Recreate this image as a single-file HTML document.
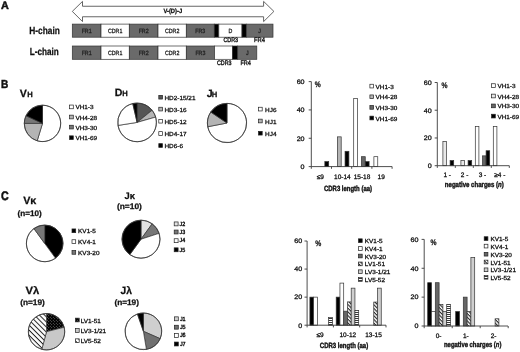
<!DOCTYPE html>
<html><head><meta charset="utf-8"><style>html,body{margin:0;padding:0;background:#fff;width:520px;height:352px;overflow:hidden;}svg{display:block;filter:grayscale(1) blur(0.3px);}</style></head>
<body>
<svg width="520" height="352" viewBox="0 0 520 352">
<style>text{font-family:"Liberation Sans", sans-serif;text-rendering:geometricPrecision;}</style>
<defs>
<pattern id="dots" width="3" height="3" patternUnits="userSpaceOnUse"><rect width="3" height="3" fill="#000"/><rect x="0.4" y="0.4" width="0.7" height="0.7" fill="#bbb"/><rect x="1.9" y="1.9" width="0.7" height="0.7" fill="#bbb"/></pattern>
<pattern id="diag" width="3.6" height="3.6" patternUnits="userSpaceOnUse" patternTransform="rotate(45)"><rect width="3.6" height="3.6" fill="#fff"/><rect width="3.6" height="1" fill="#222"/></pattern>
<pattern id="diag2" width="2.6" height="2.6" patternUnits="userSpaceOnUse" patternTransform="rotate(45)"><rect width="2.6" height="2.6" fill="#fff"/><rect width="2.6" height="1.1" fill="#222"/></pattern>
<pattern id="hstr" width="2" height="2" patternUnits="userSpaceOnUse"><rect width="2" height="2" fill="#fff"/><rect width="2" height="0.9" fill="#222"/></pattern>
</defs>
<rect width="520" height="352" fill="#fff"/>
<text x="1.1" y="9.0" font-size="11" font-weight="bold" textLength="7.8" lengthAdjust="spacingAndGlyphs" fill="#111" stroke="#111" stroke-width="0.5">A</text>
<polygon points="72.3,11.4 82.5,1.4 82.5,6.25 263.6,6.25 263.6,1.4 273.9,11.4 263.6,21.6 263.6,16.75 82.5,16.75 82.5,21.6" fill="#fff" stroke="#555" stroke-width="0.9" stroke-linejoin="miter"/>
<text x="163.4" y="13.4" font-size="6.3" font-weight="bold" textLength="18.8" lengthAdjust="spacingAndGlyphs" fill="#111" stroke="#111" stroke-width="0.26">V-(D)-J</text>
<text x="29.3" y="33.7" font-size="10.2" font-weight="bold" textLength="30.5" lengthAdjust="spacingAndGlyphs" fill="#111" stroke="#111" stroke-width="0.26">H-chain</text>
<text x="29.8" y="54.5" font-size="10.2" font-weight="bold" textLength="29.0" lengthAdjust="spacingAndGlyphs" fill="#111" stroke="#111" stroke-width="0.26">L-chain</text>
<rect x="72.30" y="24.10" width="28.70" height="13.10" fill="#6a6a6a" stroke="#333" stroke-width="0.7"/>
<text x="86.65" y="32.85" font-size="6.1" text-anchor="middle" textLength="10.03" lengthAdjust="spacingAndGlyphs" fill="#222" stroke="#222" stroke-width="0.28">FR1</text>
<rect x="101.00" y="24.10" width="28.30" height="13.10" fill="#fff" stroke="#333" stroke-width="0.7"/>
<text x="115.15" y="32.85" font-size="6.1" text-anchor="middle" textLength="14.45" lengthAdjust="spacingAndGlyphs" fill="#222" stroke="#222" stroke-width="0.28">CDR1</text>
<rect x="129.30" y="24.10" width="28.70" height="13.10" fill="#6a6a6a" stroke="#333" stroke-width="0.7"/>
<text x="143.65" y="32.85" font-size="6.1" text-anchor="middle" textLength="10.03" lengthAdjust="spacingAndGlyphs" fill="#222" stroke="#222" stroke-width="0.28">FR2</text>
<rect x="158.00" y="24.10" width="28.30" height="13.10" fill="#fff" stroke="#333" stroke-width="0.7"/>
<text x="172.15" y="32.85" font-size="6.1" text-anchor="middle" textLength="14.45" lengthAdjust="spacingAndGlyphs" fill="#222" stroke="#222" stroke-width="0.28">CDR2</text>
<rect x="186.30" y="24.10" width="28.00" height="13.10" fill="#6a6a6a" stroke="#333" stroke-width="0.7"/>
<text x="200.3" y="32.85" font-size="6.1" text-anchor="middle" textLength="10.03" lengthAdjust="spacingAndGlyphs" fill="#222" stroke="#222" stroke-width="0.28">FR3</text>
<rect x="214.30" y="24.10" width="4.50" height="13.10" fill="#000" stroke="#333" stroke-width="0.7"/>
<rect x="218.80" y="24.10" width="23.20" height="13.10" fill="#fff" stroke="#333" stroke-width="0.7"/>
<text x="230.4" y="32.85" font-size="6.1" text-anchor="middle" textLength="3.83" lengthAdjust="spacingAndGlyphs" fill="#222" stroke="#222" stroke-width="0.28">D</text>
<rect x="242.00" y="24.10" width="4.30" height="13.10" fill="#000" stroke="#333" stroke-width="0.7"/>
<rect x="246.30" y="24.10" width="26.70" height="13.10" fill="#6a6a6a" stroke="#333" stroke-width="0.7"/>
<text x="259.65" y="32.85" font-size="6.1" text-anchor="middle" textLength="2.65" lengthAdjust="spacingAndGlyphs" fill="#222" stroke="#222" stroke-width="0.28">J</text>
<rect x="72.30" y="46.00" width="28.70" height="13.30" fill="#6a6a6a" stroke="#333" stroke-width="0.7"/>
<text x="86.65" y="54.85" font-size="6.1" text-anchor="middle" textLength="10.03" lengthAdjust="spacingAndGlyphs" fill="#222" stroke="#222" stroke-width="0.28">FR1</text>
<rect x="101.00" y="46.00" width="28.30" height="13.30" fill="#fff" stroke="#333" stroke-width="0.7"/>
<text x="115.15" y="54.85" font-size="6.1" text-anchor="middle" textLength="14.45" lengthAdjust="spacingAndGlyphs" fill="#222" stroke="#222" stroke-width="0.28">CDR1</text>
<rect x="129.30" y="46.00" width="28.70" height="13.30" fill="#6a6a6a" stroke="#333" stroke-width="0.7"/>
<text x="143.65" y="54.85" font-size="6.1" text-anchor="middle" textLength="10.03" lengthAdjust="spacingAndGlyphs" fill="#222" stroke="#222" stroke-width="0.28">FR2</text>
<rect x="158.00" y="46.00" width="28.30" height="13.30" fill="#fff" stroke="#333" stroke-width="0.7"/>
<text x="172.15" y="54.85" font-size="6.1" text-anchor="middle" textLength="14.45" lengthAdjust="spacingAndGlyphs" fill="#222" stroke="#222" stroke-width="0.28">CDR2</text>
<rect x="186.30" y="46.00" width="28.20" height="13.30" fill="#6a6a6a" stroke="#333" stroke-width="0.7"/>
<text x="200.4" y="54.85" font-size="6.1" text-anchor="middle" textLength="10.03" lengthAdjust="spacingAndGlyphs" fill="#222" stroke="#222" stroke-width="0.28">FR3</text>
<rect x="214.50" y="46.00" width="18.10" height="13.30" fill="#fff" stroke="#333" stroke-width="0.7"/>
<rect x="232.60" y="46.00" width="5.10" height="13.30" fill="#000" stroke="#333" stroke-width="0.7"/>
<rect x="237.70" y="46.00" width="19.10" height="13.30" fill="#6a6a6a" stroke="#333" stroke-width="0.7"/>
<text x="247.25" y="54.85" font-size="6.1" text-anchor="middle" textLength="2.65" lengthAdjust="spacingAndGlyphs" fill="#222" stroke="#222" stroke-width="0.28">J</text>
<text x="230.7" y="42.0" font-size="6.5" text-anchor="middle" textLength="14.6" lengthAdjust="spacingAndGlyphs" fill="#1a1a1a" stroke="#1a1a1a" stroke-width="0.38">CDR3</text>
<text x="259.5" y="42.0" font-size="6.5" text-anchor="middle" textLength="11" lengthAdjust="spacingAndGlyphs" fill="#1a1a1a" stroke="#1a1a1a" stroke-width="0.38">FR4</text>
<text x="224.3" y="64.8" font-size="6.5" text-anchor="middle" textLength="14.6" lengthAdjust="spacingAndGlyphs" fill="#1a1a1a" stroke="#1a1a1a" stroke-width="0.38">CDR3</text>
<text x="245.7" y="64.8" font-size="6.5" text-anchor="middle" textLength="10.5" lengthAdjust="spacingAndGlyphs" fill="#1a1a1a" stroke="#1a1a1a" stroke-width="0.38">FR4</text>
<text x="0.9" y="87.9" font-size="11.8" font-weight="bold" textLength="7.3" lengthAdjust="spacingAndGlyphs" fill="#111" stroke="#111" stroke-width="0.5">B</text>
<text x="19.8" y="96.8" font-size="10.6" font-weight="bold" fill="#111" stroke="#111" stroke-width="0.26">V</text>
<text x="27.2" y="96.8" font-size="7.6" font-weight="bold" fill="#111" stroke="#111" stroke-width="0.26">H</text>
<path d="M42.50,123.40 L42.50,105.20 A18.2,18.2 0 1 1 37.18,140.80 Z" fill="#fff" stroke="#333" stroke-width="0.7" stroke-linejoin="round"/>
<path d="M42.50,123.40 L37.18,140.80 A18.2,18.2 0 0 1 24.30,123.40 Z" fill="#b4b4b4" stroke="#333" stroke-width="0.7" stroke-linejoin="round"/>
<path d="M42.50,123.40 L24.30,123.40 A18.2,18.2 0 0 1 26.01,115.71 Z" fill="#777" stroke="#333" stroke-width="0.7" stroke-linejoin="round"/>
<path d="M42.50,123.40 L26.01,115.71 A18.2,18.2 0 0 1 42.50,105.20 Z" fill="#000" stroke="#333" stroke-width="0.7" stroke-linejoin="round"/>
<circle cx="42.5" cy="123.4" r="18.2" fill="none" stroke="#333" stroke-width="0.7"/>
<rect x="69.60" y="105.05" width="3.70" height="3.70" fill="#fff" stroke="#222" stroke-width="0.7"/>
<text x="75.4" y="109.41" font-size="5.9" textLength="18.14" lengthAdjust="spacingAndGlyphs" fill="#111" stroke="#111" stroke-width="0.28">VH1-3</text>
<rect x="69.60" y="115.15" width="3.70" height="3.70" fill="#b4b4b4" stroke="#222" stroke-width="0.7"/>
<text x="75.4" y="119.51" font-size="5.9" textLength="21.7" lengthAdjust="spacingAndGlyphs" fill="#111" stroke="#111" stroke-width="0.28">VH4-28</text>
<rect x="69.60" y="125.25" width="3.70" height="3.70" fill="#777" stroke="#222" stroke-width="0.7"/>
<text x="75.4" y="129.61" font-size="5.9" textLength="21.7" lengthAdjust="spacingAndGlyphs" fill="#111" stroke="#111" stroke-width="0.28">VH3-30</text>
<rect x="69.60" y="135.85" width="3.70" height="3.70" fill="#000" stroke="#222" stroke-width="0.7"/>
<text x="75.4" y="140.21" font-size="5.9" textLength="21.7" lengthAdjust="spacingAndGlyphs" fill="#111" stroke="#111" stroke-width="0.28">VH1-69</text>
<text x="114.8" y="95.8" font-size="10.6" font-weight="bold" fill="#111" stroke="#111" stroke-width="0.26">D</text>
<text x="122.2" y="95.8" font-size="7.6" font-weight="bold" fill="#111" stroke="#111" stroke-width="0.26">H</text>
<path d="M137.10,122.40 L137.10,103.10 A19.3,19.3 0 0 1 152.10,110.25 Z" fill="#555" stroke="#333" stroke-width="0.7" stroke-linejoin="round"/>
<path d="M137.10,122.40 L152.10,110.25 A19.3,19.3 0 0 1 155.65,117.08 Z" fill="#b4b4b4" stroke="#333" stroke-width="0.7" stroke-linejoin="round"/>
<path d="M137.10,122.40 L155.65,117.08 A19.3,19.3 0 1 1 118.04,125.42 Z" fill="#fff" stroke="#333" stroke-width="0.7" stroke-linejoin="round"/>
<path d="M137.10,122.40 L118.04,125.42 A19.3,19.3 0 0 1 132.76,103.59 Z" fill="#fff" stroke="#333" stroke-width="0.7" stroke-linejoin="round"/>
<path d="M137.10,122.40 L132.76,103.59 A19.3,19.3 0 0 1 137.10,103.10 Z" fill="#000" stroke="#333" stroke-width="0.7" stroke-linejoin="round"/>
<circle cx="137.1" cy="122.4" r="19.3" fill="none" stroke="#333" stroke-width="0.7"/>
<rect x="158.80" y="95.35" width="3.70" height="3.70" fill="#555" stroke="#222" stroke-width="0.7"/>
<text x="164.5" y="99.71" font-size="5.9" textLength="30.95" lengthAdjust="spacingAndGlyphs" fill="#111" stroke="#111" stroke-width="0.28">HD2-15/21</text>
<rect x="158.80" y="107.25" width="3.70" height="3.70" fill="#b4b4b4" stroke="#222" stroke-width="0.7"/>
<text x="164.5" y="111.61" font-size="5.9" textLength="22.05" lengthAdjust="spacingAndGlyphs" fill="#111" stroke="#111" stroke-width="0.28">HD3-16</text>
<rect x="158.80" y="119.35" width="3.70" height="3.70" fill="#fff" stroke="#222" stroke-width="0.7"/>
<text x="164.5" y="123.71" font-size="5.9" textLength="22.05" lengthAdjust="spacingAndGlyphs" fill="#111" stroke="#111" stroke-width="0.28">HD5-12</text>
<rect x="158.80" y="131.65" width="3.70" height="3.70" fill="#fff" stroke="#222" stroke-width="0.7"/>
<text x="164.5" y="136.01" font-size="5.9" textLength="22.05" lengthAdjust="spacingAndGlyphs" fill="#111" stroke="#111" stroke-width="0.28">HD4-17</text>
<rect x="158.80" y="143.65" width="3.70" height="3.70" fill="#000" stroke="#222" stroke-width="0.7"/>
<text x="164.5" y="148.01" font-size="5.9" textLength="18.49" lengthAdjust="spacingAndGlyphs" fill="#111" stroke="#111" stroke-width="0.28">HD6-6</text>
<text x="206.8" y="96.6" font-size="10.6" font-weight="bold" fill="#111" stroke="#111" stroke-width="0.26">J</text>
<text x="211.8" y="96.6" font-size="7.6" font-weight="bold" fill="#111" stroke="#111" stroke-width="0.26">H</text>
<path d="M227.00,123.00 L227.00,103.40 A19.6,19.6 0 1 1 207.76,126.74 Z" fill="#fff" stroke="#333" stroke-width="0.7" stroke-linejoin="round"/>
<path d="M227.00,123.00 L207.76,126.74 A19.6,19.6 0 0 1 210.75,112.04 Z" fill="#b4b4b4" stroke="#333" stroke-width="0.7" stroke-linejoin="round"/>
<path d="M227.00,123.00 L210.75,112.04 A19.6,19.6 0 0 1 227.00,103.40 Z" fill="#000" stroke="#333" stroke-width="0.7" stroke-linejoin="round"/>
<circle cx="227" cy="123" r="19.6" fill="none" stroke="#333" stroke-width="0.7"/>
<rect x="258.50" y="107.25" width="3.70" height="3.70" fill="#fff" stroke="#222" stroke-width="0.7"/>
<text x="265.1" y="111.61" font-size="5.9" textLength="11.38" lengthAdjust="spacingAndGlyphs" fill="#111" stroke="#111" stroke-width="0.28">HJ6</text>
<rect x="258.50" y="119.15" width="3.70" height="3.70" fill="#b4b4b4" stroke="#222" stroke-width="0.7"/>
<text x="265.1" y="123.51" font-size="5.9" textLength="11.38" lengthAdjust="spacingAndGlyphs" fill="#111" stroke="#111" stroke-width="0.28">HJ1</text>
<rect x="258.50" y="131.35" width="3.70" height="3.70" fill="#000" stroke="#222" stroke-width="0.7"/>
<text x="265.1" y="135.71" font-size="5.9" textLength="11.38" lengthAdjust="spacingAndGlyphs" fill="#111" stroke="#111" stroke-width="0.28">HJ4</text>
<rect x="324.85" y="161.64" width="3.85" height="4.96" fill="#000" stroke="#333" stroke-width="0.7"/>
<rect x="337.35" y="136.85" width="3.85" height="29.75" fill="#b4b4b4" stroke="#333" stroke-width="0.7"/>
<rect x="345.05" y="151.30" width="3.85" height="15.30" fill="#000" stroke="#333" stroke-width="0.7"/>
<rect x="353.70" y="98.60" width="3.85" height="68.00" fill="#fff" stroke="#333" stroke-width="0.7"/>
<rect x="361.40" y="156.68" width="3.85" height="9.92" fill="#666" stroke="#333" stroke-width="0.7"/>
<rect x="365.25" y="161.64" width="3.85" height="4.96" fill="#000" stroke="#333" stroke-width="0.7"/>
<rect x="373.90" y="156.68" width="3.85" height="9.92" fill="#fff" stroke="#333" stroke-width="0.7"/>
<line x1="311.3" y1="81.6" x2="311.3" y2="166.6" stroke="#3a3a3a" stroke-width="0.9"/>
<line x1="311.3" y1="166.6" x2="392.1" y2="166.6" stroke="#3a3a3a" stroke-width="0.9"/>
<line x1="308.7" y1="81.60" x2="311.3" y2="81.60" stroke="#3a3a3a" stroke-width="0.9"/>
<text x="304.6" y="83.89999999999999" font-size="6.5" text-anchor="end" textLength="7.95" lengthAdjust="spacingAndGlyphs" fill="#111" stroke="#111" stroke-width="0.28">60</text>
<line x1="308.7" y1="109.93" x2="311.3" y2="109.93" stroke="#3a3a3a" stroke-width="0.9"/>
<text x="304.6" y="112.23333333333333" font-size="6.5" text-anchor="end" textLength="7.95" lengthAdjust="spacingAndGlyphs" fill="#111" stroke="#111" stroke-width="0.28">40</text>
<line x1="308.7" y1="138.27" x2="311.3" y2="138.27" stroke="#3a3a3a" stroke-width="0.9"/>
<text x="304.6" y="140.56666666666666" font-size="6.5" text-anchor="end" textLength="7.95" lengthAdjust="spacingAndGlyphs" fill="#111" stroke="#111" stroke-width="0.28">20</text>
<line x1="308.7" y1="166.60" x2="311.3" y2="166.60" stroke="#3a3a3a" stroke-width="0.9"/>
<text x="304.6" y="168.9" font-size="6.5" text-anchor="end" textLength="3.98" lengthAdjust="spacingAndGlyphs" fill="#111" stroke="#111" stroke-width="0.28">0</text>
<line x1="311.30" y1="166.6" x2="311.30" y2="168.79999999999998" stroke="#3a3a3a" stroke-width="0.9"/>
<line x1="331.50" y1="166.6" x2="331.50" y2="168.79999999999998" stroke="#3a3a3a" stroke-width="0.9"/>
<line x1="351.70" y1="166.6" x2="351.70" y2="168.79999999999998" stroke="#3a3a3a" stroke-width="0.9"/>
<line x1="371.90" y1="166.6" x2="371.90" y2="168.79999999999998" stroke="#3a3a3a" stroke-width="0.9"/>
<line x1="392.10" y1="166.6" x2="392.10" y2="168.79999999999998" stroke="#3a3a3a" stroke-width="0.9"/>
<text x="314.8" y="87.19999999999999" font-size="8.0" font-weight="bold" textLength="6.0" lengthAdjust="spacingAndGlyphs" fill="#111" stroke="#111" stroke-width="0.26">%</text>
<text x="320.3" y="179.10000000000002" font-size="6.5" text-anchor="middle" fill="#111" stroke="#111" stroke-width="0.28">&#8804;9</text>
<text x="342.4" y="179.10000000000002" font-size="6.5" text-anchor="middle" fill="#111" stroke="#111" stroke-width="0.28">10-14</text>
<text x="362" y="179.10000000000002" font-size="6.5" text-anchor="middle" fill="#111" stroke="#111" stroke-width="0.28">15-18</text>
<text x="381.2" y="179.10000000000002" font-size="6.5" text-anchor="middle" fill="#111" stroke="#111" stroke-width="0.28">19</text>
<text x="324" y="191.0" font-size="7.6" font-weight="bold" textLength="48" lengthAdjust="spacingAndGlyphs" fill="#111" stroke="#111" stroke-width="0.4">CDR3 length (aa)</text>
<rect x="369.90" y="84.25" width="3.70" height="3.70" fill="#fff" stroke="#222" stroke-width="0.7"/>
<text x="375.6" y="88.61" font-size="5.9" textLength="18.14" lengthAdjust="spacingAndGlyphs" fill="#111" stroke="#111" stroke-width="0.28">VH1-3</text>
<rect x="369.90" y="94.95" width="3.70" height="3.70" fill="#b4b4b4" stroke="#222" stroke-width="0.7"/>
<text x="375.6" y="99.31" font-size="5.9" textLength="21.7" lengthAdjust="spacingAndGlyphs" fill="#111" stroke="#111" stroke-width="0.28">VH4-28</text>
<rect x="369.90" y="105.55" width="3.70" height="3.70" fill="#666" stroke="#222" stroke-width="0.7"/>
<text x="375.6" y="109.91" font-size="5.9" textLength="21.7" lengthAdjust="spacingAndGlyphs" fill="#111" stroke="#111" stroke-width="0.28">VH3-30</text>
<rect x="369.90" y="116.15" width="3.70" height="3.70" fill="#000" stroke="#222" stroke-width="0.7"/>
<text x="375.6" y="120.51" font-size="5.9" textLength="21.7" lengthAdjust="spacingAndGlyphs" fill="#111" stroke="#111" stroke-width="0.28">VH1-69</text>
<rect x="442.90" y="141.43" width="3.60" height="24.27" fill="#e8e8e8" stroke="#333" stroke-width="0.7"/>
<rect x="450.10" y="160.57" width="3.60" height="5.13" fill="#000" stroke="#333" stroke-width="0.7"/>
<rect x="460.90" y="160.57" width="3.60" height="5.13" fill="#e8e8e8" stroke="#333" stroke-width="0.7"/>
<rect x="468.10" y="160.57" width="3.60" height="5.13" fill="#000" stroke="#333" stroke-width="0.7"/>
<rect x="475.30" y="126.60" width="3.60" height="39.10" fill="#fff" stroke="#333" stroke-width="0.7"/>
<rect x="482.50" y="155.85" width="3.60" height="9.85" fill="#666" stroke="#333" stroke-width="0.7"/>
<rect x="486.10" y="150.72" width="3.60" height="14.98" fill="#000" stroke="#333" stroke-width="0.7"/>
<rect x="493.30" y="126.60" width="3.60" height="39.10" fill="#fff" stroke="#333" stroke-width="0.7"/>
<line x1="437.3" y1="82.5" x2="437.3" y2="165.7" stroke="#3a3a3a" stroke-width="0.9"/>
<line x1="437.3" y1="165.7" x2="509.3" y2="165.7" stroke="#3a3a3a" stroke-width="0.9"/>
<line x1="434.7" y1="82.50" x2="437.3" y2="82.50" stroke="#3a3a3a" stroke-width="0.9"/>
<text x="431.8" y="84.8" font-size="6.5" text-anchor="end" textLength="7.95" lengthAdjust="spacingAndGlyphs" fill="#111" stroke="#111" stroke-width="0.28">60</text>
<line x1="434.7" y1="110.23" x2="437.3" y2="110.23" stroke="#3a3a3a" stroke-width="0.9"/>
<text x="431.8" y="112.53333333333333" font-size="6.5" text-anchor="end" textLength="7.95" lengthAdjust="spacingAndGlyphs" fill="#111" stroke="#111" stroke-width="0.28">40</text>
<line x1="434.7" y1="137.97" x2="437.3" y2="137.97" stroke="#3a3a3a" stroke-width="0.9"/>
<text x="431.8" y="140.26666666666668" font-size="6.5" text-anchor="end" textLength="7.95" lengthAdjust="spacingAndGlyphs" fill="#111" stroke="#111" stroke-width="0.28">20</text>
<line x1="434.7" y1="165.70" x2="437.3" y2="165.70" stroke="#3a3a3a" stroke-width="0.9"/>
<text x="431.8" y="168.0" font-size="6.5" text-anchor="end" textLength="3.98" lengthAdjust="spacingAndGlyphs" fill="#111" stroke="#111" stroke-width="0.28">0</text>
<line x1="437.30" y1="165.7" x2="437.30" y2="167.89999999999998" stroke="#3a3a3a" stroke-width="0.9"/>
<line x1="455.30" y1="165.7" x2="455.30" y2="167.89999999999998" stroke="#3a3a3a" stroke-width="0.9"/>
<line x1="473.30" y1="165.7" x2="473.30" y2="167.89999999999998" stroke="#3a3a3a" stroke-width="0.9"/>
<line x1="491.30" y1="165.7" x2="491.30" y2="167.89999999999998" stroke="#3a3a3a" stroke-width="0.9"/>
<line x1="509.30" y1="165.7" x2="509.30" y2="167.89999999999998" stroke="#3a3a3a" stroke-width="0.9"/>
<text x="441.4" y="88.1" font-size="8.0" font-weight="bold" textLength="6.0" lengthAdjust="spacingAndGlyphs" fill="#111" stroke="#111" stroke-width="0.26">%</text>
<text x="447.2" y="176.70000000000002" font-size="6.5" text-anchor="middle" fill="#111" stroke="#111" stroke-width="0.28">1 -</text>
<text x="464.6" y="176.70000000000002" font-size="6.5" text-anchor="middle" fill="#111" stroke="#111" stroke-width="0.28">2 -</text>
<text x="482.5" y="176.70000000000002" font-size="6.5" text-anchor="middle" fill="#111" stroke="#111" stroke-width="0.28">3 -</text>
<text x="499.8" y="176.70000000000002" font-size="6.5" text-anchor="middle" fill="#111" stroke="#111" stroke-width="0.28">&#8805;4 -</text>
<text x="444.8" y="187.2" font-size="7.6" font-weight="bold" textLength="59.0" lengthAdjust="spacingAndGlyphs" fill="#111" stroke="#111" stroke-width="0.4">negative charges (<tspan font-style="italic">n</tspan>)</text>
<rect x="491.60" y="83.75" width="3.70" height="3.70" fill="#fff" stroke="#222" stroke-width="0.7"/>
<text x="497.4" y="88.11" font-size="5.9" textLength="18.14" lengthAdjust="spacingAndGlyphs" fill="#111" stroke="#111" stroke-width="0.28">VH1-3</text>
<rect x="491.60" y="94.15" width="3.70" height="3.70" fill="#e8e8e8" stroke="#222" stroke-width="0.7"/>
<text x="497.4" y="98.51" font-size="5.9" textLength="21.7" lengthAdjust="spacingAndGlyphs" fill="#111" stroke="#111" stroke-width="0.28">VH4-28</text>
<rect x="491.60" y="104.05" width="3.70" height="3.70" fill="#666" stroke="#222" stroke-width="0.7"/>
<text x="497.4" y="108.41" font-size="5.9" textLength="21.7" lengthAdjust="spacingAndGlyphs" fill="#111" stroke="#111" stroke-width="0.28">VH3-30</text>
<rect x="491.60" y="114.25" width="3.70" height="3.70" fill="#000" stroke="#222" stroke-width="0.7"/>
<text x="497.4" y="118.61" font-size="5.9" textLength="21.7" lengthAdjust="spacingAndGlyphs" fill="#111" stroke="#111" stroke-width="0.28">VH1-69</text>
<text x="1.0" y="200.3" font-size="12.4" font-weight="bold" textLength="7.7" lengthAdjust="spacingAndGlyphs" fill="#111" stroke="#111" stroke-width="0.5">C</text>
<text x="23.2" y="204.4" font-size="10.6" font-weight="bold" textLength="13.2" lengthAdjust="spacingAndGlyphs" fill="#111" stroke="#111" stroke-width="0.26">V&#954;</text>
<text x="17.5" y="216.4" font-size="8.0" font-weight="bold" textLength="24.2" lengthAdjust="spacingAndGlyphs" fill="#111" stroke="#111" stroke-width="0.26">(n=10)</text>
<path d="M44.70,243.40 L44.70,225.10 A18.3,18.3 0 0 1 55.46,258.21 Z" fill="#000" stroke="#333" stroke-width="0.7" stroke-linejoin="round"/>
<path d="M44.70,243.40 L55.46,258.21 A18.3,18.3 0 0 1 33.94,228.59 Z" fill="#fff" stroke="#333" stroke-width="0.7" stroke-linejoin="round"/>
<path d="M44.70,243.40 L33.94,228.59 A18.3,18.3 0 0 1 44.70,225.10 Z" fill="#777" stroke="#333" stroke-width="0.7" stroke-linejoin="round"/>
<circle cx="44.7" cy="243.4" r="18.3" fill="none" stroke="#333" stroke-width="0.7"/>
<rect x="72.00" y="228.95" width="3.70" height="3.70" fill="#000" stroke="#222" stroke-width="0.7"/>
<text x="78.1" y="233.31" font-size="5.9" textLength="17.79" lengthAdjust="spacingAndGlyphs" fill="#111" stroke="#111" stroke-width="0.28">KV1-5</text>
<rect x="72.00" y="239.75" width="3.70" height="3.70" fill="#fff" stroke="#222" stroke-width="0.7"/>
<text x="78.1" y="244.11" font-size="5.9" textLength="17.79" lengthAdjust="spacingAndGlyphs" fill="#111" stroke="#111" stroke-width="0.28">KV4-1</text>
<rect x="72.00" y="250.55" width="3.70" height="3.70" fill="#777" stroke="#222" stroke-width="0.7"/>
<text x="78.1" y="254.91" font-size="5.9" textLength="21.35" lengthAdjust="spacingAndGlyphs" fill="#111" stroke="#111" stroke-width="0.28">KV3-20</text>
<text x="124.6" y="198.9" font-size="9.4" font-weight="bold" textLength="10.4" lengthAdjust="spacingAndGlyphs" fill="#111" stroke="#111" stroke-width="0.26">J&#954;</text>
<text x="116.9" y="208.8" font-size="8.0" font-weight="bold" textLength="25.0" lengthAdjust="spacingAndGlyphs" fill="#111" stroke="#111" stroke-width="0.26">(n=10)</text>
<path d="M141.00,239.20 L141.00,220.20 A19.0,19.0 0 0 1 152.17,223.83 Z" fill="#e2e2e2" stroke="#333" stroke-width="0.7" stroke-linejoin="round"/>
<path d="M141.00,239.20 L152.17,223.83 A19.0,19.0 0 0 1 159.07,233.33 Z" fill="#777" stroke="#333" stroke-width="0.7" stroke-linejoin="round"/>
<path d="M141.00,239.20 L159.07,233.33 A19.0,19.0 0 0 1 129.83,254.57 Z" fill="#fff" stroke="#333" stroke-width="0.7" stroke-linejoin="round"/>
<path d="M141.00,239.20 L129.83,254.57 A19.0,19.0 0 0 1 141.00,220.20 Z" fill="#000" stroke="#333" stroke-width="0.7" stroke-linejoin="round"/>
<circle cx="141.0" cy="239.2" r="19.0" fill="none" stroke="#333" stroke-width="0.7"/>
<rect x="174.20" y="221.95" width="3.90" height="3.90" fill="#e2e2e2" stroke="#222" stroke-width="0.7"/>
<text x="179.5" y="225.65" font-size="6.0" textLength="5.7" lengthAdjust="spacingAndGlyphs" fill="#111" stroke="#111" stroke-width="0.4">J2</text>
<rect x="174.20" y="230.05" width="3.90" height="3.90" fill="#777" stroke="#222" stroke-width="0.7"/>
<text x="179.5" y="233.75" font-size="6.0" textLength="5.7" lengthAdjust="spacingAndGlyphs" fill="#111" stroke="#111" stroke-width="0.4">J3</text>
<rect x="174.20" y="238.75" width="3.90" height="3.90" fill="#fff" stroke="#222" stroke-width="0.7"/>
<text x="179.5" y="242.45" font-size="6.0" textLength="5.7" lengthAdjust="spacingAndGlyphs" fill="#111" stroke="#111" stroke-width="0.4">J4</text>
<rect x="174.20" y="247.85" width="3.90" height="3.90" fill="#000" stroke="#222" stroke-width="0.7"/>
<text x="179.5" y="251.55" font-size="6.0" textLength="5.7" lengthAdjust="spacingAndGlyphs" fill="#111" stroke="#111" stroke-width="0.4">J5</text>
<text x="25.6" y="294.0" font-size="10.6" font-weight="bold" textLength="13.8" lengthAdjust="spacingAndGlyphs" fill="#111" stroke="#111" stroke-width="0.26">V&#955;</text>
<text x="20.2" y="305.3" font-size="8.0" font-weight="bold" textLength="24.6" lengthAdjust="spacingAndGlyphs" fill="#111" stroke="#111" stroke-width="0.26">(n=19)</text>
<path d="M46.50,331.70 L46.50,313.50 A18.2,18.2 0 0 1 64.16,327.30 Z" fill="url(#dots)" stroke="#333" stroke-width="0.7" stroke-linejoin="round"/>
<path d="M46.50,331.70 L64.16,327.30 A18.2,18.2 0 0 1 41.79,349.28 Z" fill="#c8c8c8" stroke="#333" stroke-width="0.7" stroke-linejoin="round"/>
<path d="M46.50,331.70 L41.79,349.28 A18.2,18.2 0 0 1 46.50,313.50 Z" fill="url(#diag)" stroke="#333" stroke-width="0.7" stroke-linejoin="round"/>
<circle cx="46.5" cy="331.7" r="18.2" fill="none" stroke="#333" stroke-width="0.7"/>
<rect x="75.50" y="318.15" width="3.70" height="3.70" fill="url(#dots)" stroke="#222" stroke-width="0.7"/>
<text x="80.7" y="322.51" font-size="5.9" textLength="20.16" lengthAdjust="spacingAndGlyphs" fill="#111" stroke="#111" stroke-width="0.28">LV1-51</text>
<rect x="75.50" y="328.65" width="3.70" height="3.70" fill="#c8c8c8" stroke="#222" stroke-width="0.7"/>
<text x="80.7" y="333.01" font-size="5.9" textLength="25.5" lengthAdjust="spacingAndGlyphs" fill="#111" stroke="#111" stroke-width="0.28">LV3-1/21</text>
<rect x="75.50" y="338.85" width="3.70" height="3.70" fill="url(#diag)" stroke="#222" stroke-width="0.7"/>
<text x="80.7" y="343.21" font-size="5.9" textLength="20.16" lengthAdjust="spacingAndGlyphs" fill="#111" stroke="#111" stroke-width="0.28">LV5-52</text>
<text x="120.6" y="294.0" font-size="10.6" font-weight="bold" textLength="11.4" lengthAdjust="spacingAndGlyphs" fill="#111" stroke="#111" stroke-width="0.26">J&#955;</text>
<text x="114.4" y="305.3" font-size="8.0" font-weight="bold" textLength="24.6" lengthAdjust="spacingAndGlyphs" fill="#111" stroke="#111" stroke-width="0.26">(n=19)</text>
<path d="M143.40,331.30 L143.40,313.00 A18.3,18.3 0 0 1 160.16,338.66 Z" fill="#cfcfcf" stroke="#333" stroke-width="0.7" stroke-linejoin="round"/>
<path d="M143.40,331.30 L160.16,338.66 A18.3,18.3 0 0 1 146.42,349.35 Z" fill="#707070" stroke="#333" stroke-width="0.7" stroke-linejoin="round"/>
<path d="M143.40,331.30 L146.42,349.35 A18.3,18.3 0 0 1 137.44,314.00 Z" fill="#fff" stroke="#333" stroke-width="0.7" stroke-linejoin="round"/>
<path d="M143.40,331.30 L137.44,314.00 A18.3,18.3 0 0 1 143.40,313.00 Z" fill="#000" stroke="#333" stroke-width="0.7" stroke-linejoin="round"/>
<circle cx="143.4" cy="331.3" r="18.3" fill="none" stroke="#333" stroke-width="0.7"/>
<rect x="174.40" y="316.85" width="3.90" height="3.90" fill="#cfcfcf" stroke="#222" stroke-width="0.7"/>
<text x="179.9" y="320.55" font-size="6.0" textLength="5.7" lengthAdjust="spacingAndGlyphs" fill="#111" stroke="#111" stroke-width="0.4">J1</text>
<rect x="174.40" y="325.25" width="3.90" height="3.90" fill="#707070" stroke="#222" stroke-width="0.7"/>
<text x="179.9" y="328.95" font-size="6.0" textLength="5.7" lengthAdjust="spacingAndGlyphs" fill="#111" stroke="#111" stroke-width="0.4">J5</text>
<rect x="174.40" y="333.65" width="3.90" height="3.90" fill="#fff" stroke="#222" stroke-width="0.7"/>
<text x="179.9" y="337.35" font-size="6.0" textLength="5.7" lengthAdjust="spacingAndGlyphs" fill="#111" stroke="#111" stroke-width="0.4">J6</text>
<rect x="174.40" y="342.05" width="3.90" height="3.90" fill="#000" stroke="#222" stroke-width="0.7"/>
<text x="179.9" y="345.75" font-size="6.0" textLength="5.7" lengthAdjust="spacingAndGlyphs" fill="#111" stroke="#111" stroke-width="0.4">J7</text>
<rect x="309.90" y="297.13" width="3.75" height="28.07" fill="#000" stroke="#333" stroke-width="0.7"/>
<rect x="313.65" y="297.13" width="3.75" height="28.07" fill="#fff" stroke="#333" stroke-width="0.7"/>
<rect x="328.65" y="317.62" width="3.75" height="7.58" fill="url(#hstr)" stroke="#333" stroke-width="0.7"/>
<rect x="336.20" y="297.13" width="3.75" height="28.07" fill="#000" stroke="#333" stroke-width="0.7"/>
<rect x="339.95" y="283.10" width="3.75" height="42.10" fill="#fff" stroke="#333" stroke-width="0.7"/>
<rect x="343.70" y="311.17" width="3.75" height="14.03" fill="#666" stroke="#333" stroke-width="0.7"/>
<rect x="347.45" y="301.90" width="3.75" height="23.30" fill="url(#diag2)" stroke="#333" stroke-width="0.7"/>
<rect x="351.20" y="288.15" width="3.75" height="37.05" fill="#cfcfcf" stroke="#333" stroke-width="0.7"/>
<rect x="354.95" y="310.46" width="3.75" height="14.74" fill="url(#hstr)" stroke="#333" stroke-width="0.7"/>
<rect x="373.75" y="302.05" width="3.75" height="23.15" fill="url(#diag2)" stroke="#333" stroke-width="0.7"/>
<rect x="377.50" y="288.15" width="3.75" height="37.05" fill="#cfcfcf" stroke="#333" stroke-width="0.7"/>
<line x1="307.1" y1="241.0" x2="307.1" y2="325.2" stroke="#3a3a3a" stroke-width="0.9"/>
<line x1="307.1" y1="325.2" x2="386.0" y2="325.2" stroke="#3a3a3a" stroke-width="0.9"/>
<line x1="304.5" y1="241.00" x2="307.1" y2="241.00" stroke="#3a3a3a" stroke-width="0.9"/>
<text x="302.2" y="243.3" font-size="6.5" text-anchor="end" textLength="7.95" lengthAdjust="spacingAndGlyphs" fill="#111" stroke="#111" stroke-width="0.28">60</text>
<line x1="304.5" y1="269.07" x2="307.1" y2="269.07" stroke="#3a3a3a" stroke-width="0.9"/>
<text x="302.2" y="271.3666666666667" font-size="6.5" text-anchor="end" textLength="7.95" lengthAdjust="spacingAndGlyphs" fill="#111" stroke="#111" stroke-width="0.28">40</text>
<line x1="304.5" y1="297.13" x2="307.1" y2="297.13" stroke="#3a3a3a" stroke-width="0.9"/>
<text x="302.2" y="299.43333333333334" font-size="6.5" text-anchor="end" textLength="7.95" lengthAdjust="spacingAndGlyphs" fill="#111" stroke="#111" stroke-width="0.28">20</text>
<line x1="304.5" y1="325.20" x2="307.1" y2="325.20" stroke="#3a3a3a" stroke-width="0.9"/>
<text x="302.2" y="327.5" font-size="6.5" text-anchor="end" textLength="3.98" lengthAdjust="spacingAndGlyphs" fill="#111" stroke="#111" stroke-width="0.28">0</text>
<line x1="307.10" y1="325.2" x2="307.10" y2="327.4" stroke="#3a3a3a" stroke-width="0.9"/>
<line x1="333.40" y1="325.2" x2="333.40" y2="327.4" stroke="#3a3a3a" stroke-width="0.9"/>
<line x1="359.70" y1="325.2" x2="359.70" y2="327.4" stroke="#3a3a3a" stroke-width="0.9"/>
<line x1="386.00" y1="325.2" x2="386.00" y2="327.4" stroke="#3a3a3a" stroke-width="0.9"/>
<text x="315.3" y="245.9" font-size="8.0" font-weight="bold" textLength="6.0" lengthAdjust="spacingAndGlyphs" fill="#111" stroke="#111" stroke-width="0.26">%</text>
<text x="320.1" y="337.3" font-size="6.5" text-anchor="middle" fill="#111" stroke="#111" stroke-width="0.28">&#8804;9</text>
<text x="347.8" y="337.3" font-size="6.5" text-anchor="middle" fill="#111" stroke="#111" stroke-width="0.28">10-12</text>
<text x="373.5" y="337.3" font-size="6.5" text-anchor="middle" fill="#111" stroke="#111" stroke-width="0.28">13-15</text>
<text x="319.8" y="347.7" font-size="7.6" font-weight="bold" textLength="48.39999999999998" lengthAdjust="spacingAndGlyphs" fill="#111" stroke="#111" stroke-width="0.4">CDR3 length (aa)</text>
<rect x="358.50" y="238.85" width="3.70" height="3.70" fill="#000" stroke="#222" stroke-width="0.7"/>
<text x="364.8" y="243.21" font-size="5.9" textLength="17.79" lengthAdjust="spacingAndGlyphs" fill="#111" stroke="#111" stroke-width="0.28">KV1-5</text>
<rect x="358.50" y="246.65" width="3.70" height="3.70" fill="#fff" stroke="#222" stroke-width="0.7"/>
<text x="364.8" y="251.01" font-size="5.9" textLength="17.79" lengthAdjust="spacingAndGlyphs" fill="#111" stroke="#111" stroke-width="0.28">KV4-1</text>
<rect x="358.50" y="254.15" width="3.70" height="3.70" fill="#666" stroke="#222" stroke-width="0.7"/>
<text x="364.8" y="258.51" font-size="5.9" textLength="21.35" lengthAdjust="spacingAndGlyphs" fill="#111" stroke="#111" stroke-width="0.28">KV3-20</text>
<rect x="358.50" y="262.05" width="3.70" height="3.70" fill="url(#diag2)" stroke="#222" stroke-width="0.7"/>
<text x="364.8" y="266.41" font-size="5.9" textLength="20.16" lengthAdjust="spacingAndGlyphs" fill="#111" stroke="#111" stroke-width="0.28">LV1-51</text>
<rect x="358.50" y="269.85" width="3.70" height="3.70" fill="#cfcfcf" stroke="#222" stroke-width="0.7"/>
<text x="364.8" y="274.21" font-size="5.9" textLength="25.5" lengthAdjust="spacingAndGlyphs" fill="#111" stroke="#111" stroke-width="0.28">LV3-1/21</text>
<rect x="358.50" y="277.65" width="3.70" height="3.70" fill="url(#hstr)" stroke="#222" stroke-width="0.7"/>
<text x="364.8" y="282.01" font-size="5.9" textLength="20.16" lengthAdjust="spacingAndGlyphs" fill="#111" stroke="#111" stroke-width="0.28">LV5-52</text>
<rect x="427.70" y="282.70" width="3.80" height="43.30" fill="#000" stroke="#333" stroke-width="0.7"/>
<rect x="431.50" y="311.57" width="3.80" height="14.43" fill="#fff" stroke="#333" stroke-width="0.7"/>
<rect x="435.30" y="282.70" width="3.80" height="43.30" fill="#666" stroke="#333" stroke-width="0.7"/>
<rect x="439.10" y="304.35" width="3.80" height="21.65" fill="url(#diag2)" stroke="#333" stroke-width="0.7"/>
<rect x="442.90" y="311.57" width="3.80" height="14.43" fill="#cfcfcf" stroke="#333" stroke-width="0.7"/>
<rect x="446.70" y="304.35" width="3.80" height="21.65" fill="url(#hstr)" stroke="#333" stroke-width="0.7"/>
<rect x="455.70" y="311.57" width="3.80" height="14.43" fill="#000" stroke="#333" stroke-width="0.7"/>
<rect x="463.30" y="297.13" width="3.80" height="28.87" fill="#666" stroke="#333" stroke-width="0.7"/>
<rect x="467.10" y="311.57" width="3.80" height="14.43" fill="url(#diag2)" stroke="#333" stroke-width="0.7"/>
<rect x="470.90" y="257.44" width="3.80" height="68.56" fill="#cfcfcf" stroke="#333" stroke-width="0.7"/>
<rect x="495.10" y="318.78" width="3.80" height="7.22" fill="url(#diag2)" stroke="#333" stroke-width="0.7"/>
<line x1="424.2" y1="239.4" x2="424.2" y2="326.0" stroke="#3a3a3a" stroke-width="0.9"/>
<line x1="424.2" y1="326.0" x2="508.0" y2="326.0" stroke="#3a3a3a" stroke-width="0.9"/>
<line x1="421.59999999999997" y1="239.40" x2="424.2" y2="239.40" stroke="#3a3a3a" stroke-width="0.9"/>
<text x="418.4" y="241.70000000000002" font-size="6.5" text-anchor="end" textLength="7.95" lengthAdjust="spacingAndGlyphs" fill="#111" stroke="#111" stroke-width="0.28">60</text>
<line x1="421.59999999999997" y1="268.27" x2="424.2" y2="268.27" stroke="#3a3a3a" stroke-width="0.9"/>
<text x="418.4" y="270.56666666666666" font-size="6.5" text-anchor="end" textLength="7.95" lengthAdjust="spacingAndGlyphs" fill="#111" stroke="#111" stroke-width="0.28">40</text>
<line x1="421.59999999999997" y1="297.13" x2="424.2" y2="297.13" stroke="#3a3a3a" stroke-width="0.9"/>
<text x="418.4" y="299.43333333333334" font-size="6.5" text-anchor="end" textLength="7.95" lengthAdjust="spacingAndGlyphs" fill="#111" stroke="#111" stroke-width="0.28">20</text>
<line x1="421.59999999999997" y1="326.00" x2="424.2" y2="326.00" stroke="#3a3a3a" stroke-width="0.9"/>
<text x="418.4" y="328.3" font-size="6.5" text-anchor="end" textLength="3.98" lengthAdjust="spacingAndGlyphs" fill="#111" stroke="#111" stroke-width="0.28">0</text>
<line x1="424.20" y1="326.0" x2="424.20" y2="328.2" stroke="#3a3a3a" stroke-width="0.9"/>
<line x1="452.20" y1="326.0" x2="452.20" y2="328.2" stroke="#3a3a3a" stroke-width="0.9"/>
<line x1="480.20" y1="326.0" x2="480.20" y2="328.2" stroke="#3a3a3a" stroke-width="0.9"/>
<line x1="508.20" y1="326.0" x2="508.20" y2="328.2" stroke="#3a3a3a" stroke-width="0.9"/>
<text x="430.6" y="244.9" font-size="8.0" font-weight="bold" textLength="6.0" lengthAdjust="spacingAndGlyphs" fill="#111" stroke="#111" stroke-width="0.26">%</text>
<text x="438.6" y="338.1" font-size="6.5" text-anchor="middle" fill="#111" stroke="#111" stroke-width="0.28">0-</text>
<text x="465.8" y="338.1" font-size="6.5" text-anchor="middle" fill="#111" stroke="#111" stroke-width="0.28">1-</text>
<text x="493.6" y="338.1" font-size="6.5" text-anchor="middle" fill="#111" stroke="#111" stroke-width="0.28">2-</text>
<text x="444" y="347.2" font-size="7.6" font-weight="bold" textLength="57.39999999999998" lengthAdjust="spacingAndGlyphs" fill="#111" stroke="#111" stroke-width="0.4">negative charges (<tspan font-style="italic">n</tspan>)</text>
<rect x="484.20" y="236.75" width="3.70" height="3.70" fill="#000" stroke="#222" stroke-width="0.7"/>
<text x="490.5" y="241.11" font-size="5.9" textLength="17.79" lengthAdjust="spacingAndGlyphs" fill="#111" stroke="#111" stroke-width="0.28">KV1-5</text>
<rect x="484.20" y="244.25" width="3.70" height="3.70" fill="#fff" stroke="#222" stroke-width="0.7"/>
<text x="490.5" y="248.61" font-size="5.9" textLength="17.79" lengthAdjust="spacingAndGlyphs" fill="#111" stroke="#111" stroke-width="0.28">KV4-1</text>
<rect x="484.20" y="252.35" width="3.70" height="3.70" fill="#666" stroke="#222" stroke-width="0.7"/>
<text x="490.5" y="256.71" font-size="5.9" textLength="21.35" lengthAdjust="spacingAndGlyphs" fill="#111" stroke="#111" stroke-width="0.28">KV3-20</text>
<rect x="484.20" y="260.15" width="3.70" height="3.70" fill="url(#diag2)" stroke="#222" stroke-width="0.7"/>
<text x="490.5" y="264.51" font-size="5.9" textLength="20.16" lengthAdjust="spacingAndGlyphs" fill="#111" stroke="#111" stroke-width="0.28">LV1-51</text>
<rect x="484.20" y="267.95" width="3.70" height="3.70" fill="#cfcfcf" stroke="#222" stroke-width="0.7"/>
<text x="490.5" y="272.31" font-size="5.9" textLength="25.5" lengthAdjust="spacingAndGlyphs" fill="#111" stroke="#111" stroke-width="0.28">LV3-1/21</text>
<rect x="484.20" y="275.45" width="3.70" height="3.70" fill="url(#hstr)" stroke="#222" stroke-width="0.7"/>
<text x="490.5" y="279.81" font-size="5.9" textLength="20.16" lengthAdjust="spacingAndGlyphs" fill="#111" stroke="#111" stroke-width="0.28">LV5-52</text>
</svg>
</body></html>
